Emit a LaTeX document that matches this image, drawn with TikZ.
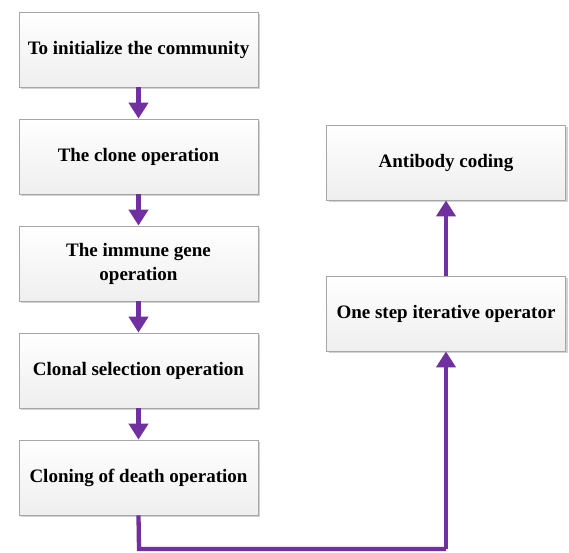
\documentclass[tikz,border=0pt]{standalone}
\usepackage{fontspec}
\setmainfont{Liberation Serif}
\usetikzlibrary{shadows,arrows.meta}
\definecolor{flowpurple}{HTML}{7030A0}
\begin{document}
\begin{tikzpicture}[x=1pt,y=-1pt,
  stepbox/.style={draw=gray!70, line width=0.8pt, top color=white, bottom color=gray!13,
    minimum width=239pt, minimum height=75pt, inner sep=2pt, align=center,
    font=\fontsize{19}{24}\selectfont\bfseries,
    drop shadow={shadow xshift=2pt, shadow yshift=-2pt, fill=gray!35, opacity=1}},
  flow/.style={draw=flowpurple, line width=4.3pt, -{Triangle[length=16pt,width=19pt]}},
  flowline/.style={draw=flowpurple, line width=4.3pt, line join=miter}]
\useasboundingbox (0,0) rectangle (569,552);
\node[stepbox] (a) at (138.5,49.5) {To initialize the community};
\node[stepbox] (b) at (138.5,156.5) {The clone operation};
\node[stepbox] (c) at (138.5,263.5) {The immune gene\\operation};
\node[stepbox] (d) at (138.5,370.5) {Clonal selection operation};
\node[stepbox] (e) at (138.5,477.5) {Cloning of death operation};
\node[stepbox] (g) at (446,162.5) {Antibody coding};
\node[stepbox] (f) at (446,313.5) {One step iterative operator};
\coordinate (c1) at (139,549);
\coordinate (c2) at (446,549);
\draw[flow] (a.south) -- (b.north);
\draw[flow] (b.south) -- (c.north);
\draw[flow] (c.south) -- (d.north);
\draw[flow] (d.south) -- (e.north);
\draw[flowline] (e.south) -- (c1) -- (c2);
\draw[flow] (c2) -- (f.south);
\draw[flow] (f.north) -- (g.south);
\end{tikzpicture}
\end{document}
